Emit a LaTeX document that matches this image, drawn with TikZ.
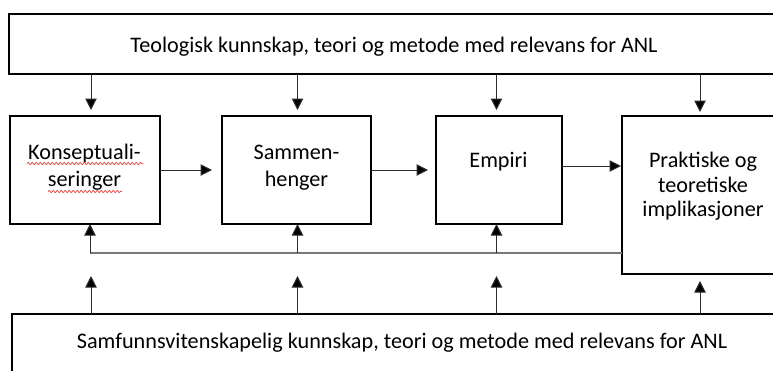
\documentclass[tikz,border=0pt]{standalone}
\usepackage{fontspec}
\setmainfont{Carlito}
\usetikzlibrary{arrows.meta,decorations.pathmorphing}
\definecolor{arrowgray}{RGB}{45,45,45}
\definecolor{fbgray}{RGB}{120,120,120}
\definecolor{spellred}{RGB}{240,60,60}
\tikzset{
  box/.style={draw=black, line width=1.8pt, inner sep=0pt, outer sep=0pt},
  txt/.style={inner sep=0pt, outer sep=0pt, anchor=base, font=\fontsize{22.2}{26}\selectfont},
  arr/.style={draw=arrowgray, line width=1pt, -{Triangle[length=11.5pt,width=11.5pt,fill=black]}},
  fbline/.style={draw=fbgray, line width=1.3pt},
  spell/.style={draw=spellred, line width=0.7pt, decorate, decoration={snake, amplitude=1.1pt, segment length=4pt}}
}
\begin{document}
\begin{tikzpicture}[x=1pt,y=-1pt]
\useasboundingbox[fill=white] (0,0) rectangle (773,370);
\clip (0,0) rectangle (773,370);
% boxes
\node[box, minimum width=771pt, minimum height=60pt] (top) at (394.5,44) {};
\node[box, minimum width=150pt, minimum height=108pt] (b1) at (85,170) {};
\node[box, minimum width=149pt, minimum height=108pt] (b2) at (296.5,170) {};
\node[box, minimum width=126pt, minimum height=108pt] (b3) at (499,170) {};
\node[box, minimum width=163pt, minimum height=158pt] (b4) at (703.5,195) {};
\node[box, minimum width=780pt, minimum height=70pt] (bot) at (402,349) {};
% texts
\node[txt] (ttop) at (394,52) {Teologisk kunnskap, teori og metode med relevans for ANL};
\node[txt] (tb1a) at (84.5,159) {Konseptuali-};
\node[txt] (tb1b) at (84.5,186) {seringer};
\node[txt] (tb2a) at (296.5,159) {Sammen-};
\node[txt] (tb2b) at (296.5,186) {henger};
\node[txt] (tb3) at (498.5,167) {Empiri};
\node[txt] (tb4a) at (703,167) {Praktiske og};
\node[txt] (tb4b) at (703,192) {teoretiske};
\node[txt] (tb4c) at (703,216) {implikasjoner};
\node[txt] (tbot) at (402,348) {Samfunnsvitenskapelig kunnskap, teori og metode med relevans for ANL};
% spell-check underlines
\coordinate (s1a) at (27,163.5); \coordinate (s1b) at (143,163.5);
\coordinate (s2a) at (48,191.5); \coordinate (s2b) at (122,191.5);
\draw[spell] (s1a) -- (s1b);
\draw[spell] (s2a) -- (s2b);
% column x-positions
\coordinate (c1) at (91,0);
\coordinate (c2) at (297.5,0);
\coordinate (c3) at (496.5,0);
\coordinate (c4) at (700,0);
% arrows from top box
\draw[arr, shorten >=6pt] (c1 |- top.south) -- (c1 |- b1.north);
\draw[arr, shorten >=6pt] (c2 |- top.south) -- (c2 |- b2.north);
\draw[arr, shorten >=6pt] (c3 |- top.south) -- (c3 |- b3.north);
\draw[arr, shorten >=4pt] (c4 |- top.south) -- (c4 |- b4.north);
% horizontal arrows
\coordinate (h1) at (0,170);
\coordinate (h2) at (0,170);
\coordinate (h3) at (0,166);
\draw[arr, shorten >=10pt] (b1.east |- h1) -- (b2.west |- h1);
\draw[arr, shorten >=8pt] (b2.east |- h2) -- (b3.west |- h2);
\draw[arr, shorten >=1pt] (b3.east |- h3) -- (b4.west |- h3);
% feedback line
\coordinate (fb) at (90,253);
\draw[fbline] (b4.west |- fb) -- (fb);
\draw[arr] (fb) -- (fb |- b1.south);
\draw[arr] (c2 |- fb) -- (c2 |- b2.south);
\draw[arr] (c3 |- fb) -- (c3 |- b3.south);
% arrows from bottom box
\coordinate (up) at (0,276);
\draw[arr] (c1 |- bot.north) -- (c1 |- up);
\draw[arr] (c2 |- bot.north) -- (c2 |- up);
\draw[arr] (c3 |- bot.north) -- (c3 |- up);
\draw[arr, shorten >=7pt] (c4 |- bot.north) -- (c4 |- b4.south);
\end{tikzpicture}
\end{document}
